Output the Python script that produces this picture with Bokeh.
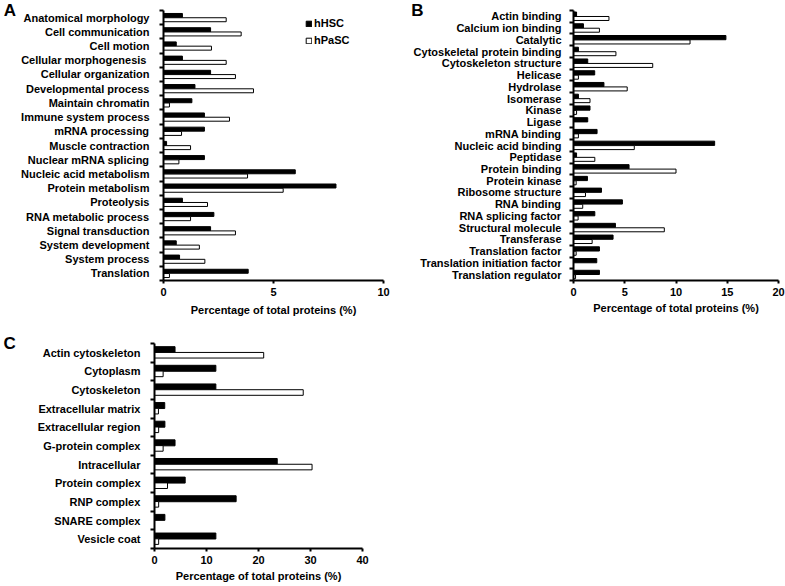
from bokeh.plotting import figure
from bokeh.models import Range1d, FixedTicker, Legend, LegendItem
from bokeh.layouts import row, column
from bokeh.embed import file_html
from bokeh.resources import INLINE

FONT = "Liberation Sans"

# ---------------- data ----------------
a_categories = ["Anatomical morphology", "Cell communication", "Cell motion",
                "Cellular  morphogenesis", "Cellular organization", "Developmental process",
                "Maintain chromatin", "Immune system process", "mRNA processing",
                "Muscle contraction", "Nuclear mRNA splicing", "Nucleic acid metabolism",
                "Protein metabolism", "Proteolysis", "RNA metabolic process",
                "Signal transduction", "System development", "System process", "Translation"]
a_hhsc = [0.86, 2.14, 0.58, 0.86, 2.14, 1.43, 1.29, 1.86, 1.86, 0.14,
          1.86, 5.99, 7.84, 0.86, 2.29, 2.14, 0.58, 0.73, 3.85]
a_hpasc = [2.85, 3.53, 2.18, 2.85, 3.27, 4.09, 0.27, 3.0, 0.82, 1.23,
           0.7, 3.82, 5.44, 2.0, 1.23, 3.27, 1.63, 1.88, 0.27]
a_ticks = [0, 5, 10]

b_categories = ["Actin binding", "Calcium ion binding", "Catalytic",
                "Cytoskeletal protein binding", "Cytoskeleton structure", "Helicase",
                "Hydrolase", "Isomerase", "Kinase", "Ligase", "mRNA binding",
                "Nucleic acid binding", "Peptidase", "Protein binding", "Protein kinase",
                "Ribosome structure", "RNA binding", "RNA splicing factor",
                "Structural molecule", "Transferase", "Translation factor",
                "Translation initiation factor", "Translation regulator"]
b_hhsc = [0.3, 0.97, 14.87, 0.48, 1.39, 2.07, 2.97, 0.48, 1.61, 1.39, 2.3,
          13.77, 0.3, 5.42, 1.36, 2.73, 4.77, 2.08, 4.09, 3.86, 2.53, 2.27, 2.53]
b_hpasc = [3.46, 2.53, 11.37, 4.14, 7.73, 0.48, 5.24, 1.61, 0.3, 0.0, 0.48,
           5.93, 2.08, 10.0, 0.26, 1.17, 0.9, 0.45, 8.86, 1.82, 0.26, 0.0, 0.2]
b_ticks = [0, 5, 10, 15, 20]

c_categories = ["Actin cytoskeleton", "Cytoplasm", "Cytoskeleton", "Extracellular matrix",
                "Extracellular region", "G-protein complex", "Intracellular",
                "Protein complex", "RNP complex", "SNARE complex", "Vesicle coat"]
c_hhsc = [3.95, 11.8, 11.8, 1.97, 2.0, 3.95, 23.6, 5.9, 15.7, 2.0, 11.8]
c_hpasc = [21.0, 1.66, 28.6, 0.76, 0.8, 1.66, 30.3, 2.5, 0.8, 0.0, 0.8]
c_ticks = [0, 10, 20, 30, 40]

series_names = ["hHSC", "hPaSC"]
x_label = "Percentage of total proteins (%)"


def make_panel(cats, s1, s2, ticks, width, height, bl, br, bt, bb,
               off1, off2, h1, h2, letter, letter_standoff, tick_standoff=4,
               label_standoff=2, ylab_standoff=10, legend_loc=None):
    n = len(cats)
    centers = [n - 1 - i for i in range(n)]
    bounds = [k - 0.5 for k in range(n + 1)]
    x0, x1 = ticks[0], ticks[-1]
    y0, y1 = -0.5, n - 0.5
    p = figure(width=width, height=height, output_backend="svg", toolbar_location=None,
               x_range=Range1d(x0, x1), y_range=Range1d(y0, y1),
               min_border_left=bl, min_border_right=br, min_border_top=bt,
               min_border_bottom=bb)
    p.outline_line_color = None
    p.grid.visible = False
    p.background_fill_color = "white"
    p.border_fill_color = "white"

    r1 = p.hbar(y=[c + off1 for c in centers], right=s1, left=0, height=h1,
                fill_color="black", line_color="black", line_width=1)
    r2 = p.hbar(y=[c + off2 for c in centers], right=s2, left=0, height=h2,
                fill_color="white", line_color="black", line_width=1)

    xa = p.xaxis[0]
    xa.ticker = FixedTicker(ticks=ticks)
    xa.axis_line_width = 2
    xa.major_tick_line_width = 2
    xa.major_tick_out = 3
    xa.major_tick_in = 0
    xa.minor_tick_line_color = None
    xa.major_label_standoff = tick_standoff
    xa.major_label_text_font = FONT
    xa.major_label_text_font_style = "bold"
    xa.major_label_text_font_size = "11px"
    xa.major_label_text_color = "black"
    xa.axis_label = x_label
    xa.axis_label_text_font = FONT
    xa.axis_label_text_font_style = "bold"
    xa.axis_label_text_font_size = "11px"
    xa.axis_label_text_color = "black"
    xa.axis_label_standoff = label_standoff

    ya = p.yaxis[0]
    ya.ticker = FixedTicker(ticks=centers, minor_ticks=bounds)
    ya.major_label_overrides = {c: name for c, name in zip(centers, cats)}
    ya.axis_line_width = 2
    ya.major_tick_line_color = None
    ya.major_tick_out = 0
    ya.major_tick_in = 0
    ya.minor_tick_line_width = 2
    ya.minor_tick_out = 4
    ya.minor_tick_in = 0
    ya.major_label_standoff = ylab_standoff
    ya.major_label_text_font = FONT
    ya.major_label_text_font_style = "bold"
    ya.major_label_text_font_size = "11px"
    ya.major_label_text_color = "black"
    # panel letter as a horizontal axis label at the top end of the y axis
    ya.axis_label = letter
    ya.axis_label_orientation = "horizontal"
    ya.axis_label_align = "end"
    ya.axis_label_standoff = letter_standoff
    ya.axis_label_text_font = FONT
    ya.axis_label_text_font_style = "bold"
    ya.axis_label_text_font_size = "17px"
    ya.axis_label_text_color = "black"

    if legend_loc is not None:
        leg = Legend(items=[LegendItem(label=series_names[0], renderers=[r1]),
                            LegendItem(label=series_names[1], renderers=[r2])],
                     location=legend_loc, orientation="vertical",
                     glyph_width=7, glyph_height=7, label_height=12, label_width=20,
                     label_standoff=2, spacing=5, padding=0, margin=0,
                     border_line_color=None, background_fill_alpha=0,
                     label_text_font=FONT, label_text_font_style="bold",
                     label_text_font_size="11px", label_text_color="black")
        p.add_layout(leg, "center")
    return p


pA = make_panel(a_categories, a_hhsc, a_hpasc, a_ticks, 400, 330, 163, 17, 10, 50,
                0.15, -0.15, 0.28, 0.28, "A", 2, label_standoff=5,
                legend_loc=(142, 234))
pB = make_panel(b_categories, b_hhsc, b_hpasc, b_ticks, 385, 330, 173, 7, 7, 45,
                0.19, -0.18, 0.36, 0.34, "B", -13, ylab_standoff=8, label_standoff=3)
pC = make_panel(c_categories, c_hhsc, c_hpasc, c_ticks, 400, 256, 153, 38, 13, 38,
                0.17, -0.13, 0.32, 0.30, "C", 19, tick_standoff=4, label_standoff=3)

layout = column(row(pA, pB), pC)

open("out.html", "w").write(file_html(layout, INLINE))
